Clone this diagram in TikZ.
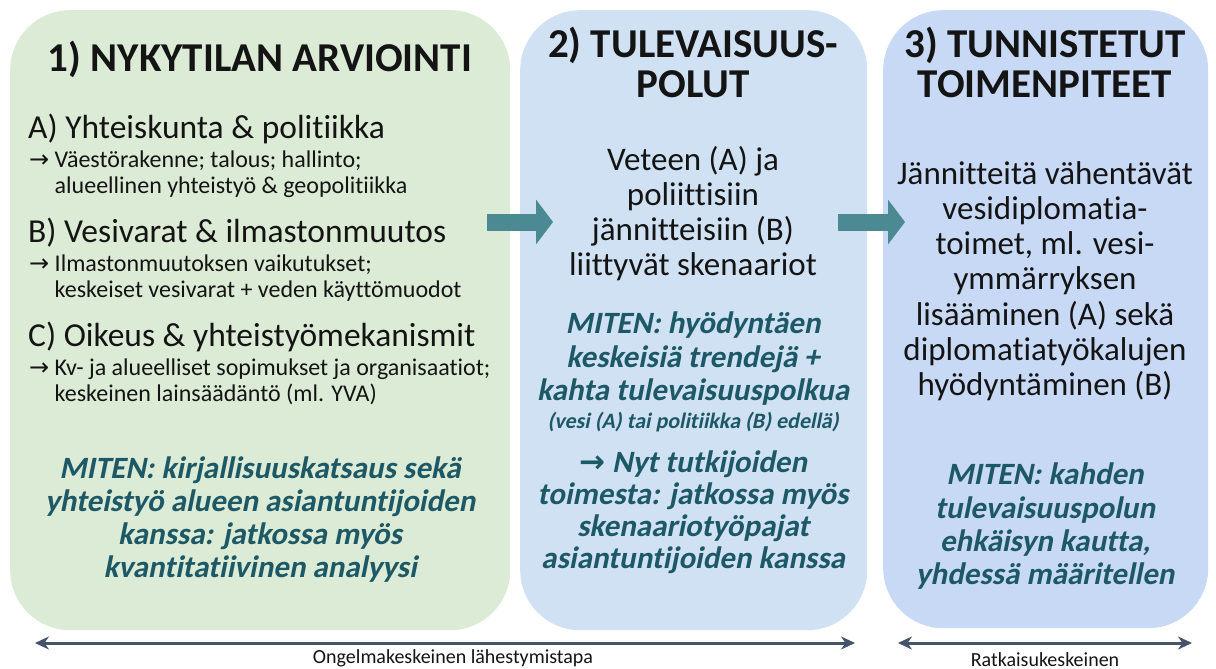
\documentclass[tikz,border=0pt]{standalone}
\usepackage{fontspec}
\setmainfont{Carlito}[Ligatures={NoCommon,NoContextual,NoRequired}, Contextuals=NoAlternate, BoldFont={Carlito Bold}, BoldItalicFont={Carlito Bold}, BoldItalicFeatures={FakeSlant=0.2}]
\newfontfamily\symf{DejaVu Sans}
\usetikzlibrary{arrows.meta}
\definecolor{pgreen}{HTML}{DCEBD5}
\definecolor{pblue}{HTML}{CFE1F3}
\definecolor{pblue2}{HTML}{C8D9F5}
\definecolor{teal1}{HTML}{4B8A93}
\definecolor{miten}{HTML}{1D5866}
\definecolor{axis}{HTML}{44546A}
\definecolor{ink}{HTML}{141414}
\newcommand{\ra}{{\symf\char"2192}}
\tikzset{
  panel/.style={draw=none, rounded corners=60pt, anchor=north west, inner sep=0pt},
  ttl/.style={font=\fontsize{41}{41}\selectfont\bfseries, text=ink, inner sep=0pt, anchor=base},
  hdr/.style={font=\fontsize{33.5}{33.5}\selectfont, text=ink, inner sep=0pt, anchor=base west},
  sub/.style={font=\fontsize{24}{24}\selectfont, text=ink, inner sep=0pt, anchor=base west},
  body/.style={font=\fontsize{33}{33}\selectfont, text=ink, inner sep=0pt, anchor=base},
  how/.style={font=\fontsize{31}{31}\selectfont\bfseries\itshape, text=miten, inner sep=0pt, anchor=base},
  howsmall/.style={font=\fontsize{22}{22}\selectfont\bfseries\itshape, text=miten, inner sep=0pt, anchor=base},
  bigarrow/.style={draw=teal1, line width=17pt, -{Triangle[length=17pt,width=44pt]}},
  axisarrow/.style={draw=axis, line width=3pt, {Stealth[length=14pt,width=13pt]}-{Stealth[length=14pt,width=13pt]}},
  lbl/.style={font=\fontsize{20}{20}\selectfont, text=ink, inner sep=0pt, anchor=base}
}
\begin{document}
\begin{tikzpicture}[x=1pt,y=-1pt]
\useasboundingbox (0,0) rectangle (1216,669);
\fill[white] (0,0) rectangle (1216,669);

% panels
\node[panel, fill=pgreen, minimum width=500pt, minimum height=620pt] (p1) at (10,10) {};
\node[panel, fill=pblue, minimum width=347pt, minimum height=620pt] (p2) at (520,10) {};
\node[panel, fill=pblue2, minimum width=325pt, minimum height=618pt] (p3) at (883,10) {};

% panel 1
\node[ttl] (t1) at (260,72) {1) NYKYTILAN ARVIOINTI};
\node[hdr] (a1) at (28,138) {A) Yhteiskunta \& politiikka};
\node[sub] (a2) at (29,167) {\ra\ Väestörakenne; talous; hallinto;};
\node[sub] (a3) at (29,193) {\phantom{\ra\ }alueellinen yhteistyö \& geopolitiikka};
\node[hdr] (b1) at (28,242) {B) Vesivarat \& ilmastonmuutos};
\node[sub] (b2) at (29,271) {\ra\ Ilmastonmuutoksen vaikutukset;};
\node[sub] (b3) at (29,297) {\phantom{\ra\ }keskeiset vesivarat + veden käyttömuodot};
\node[hdr] (c1) at (28,346) {C) Oikeus \& yhteistyömekanismit};
\node[sub] (c2) at (29,375) {\ra\ Kv- ja alueelliset sopimukset ja organisaatiot;};
\node[sub] (c3) at (29,401) {\phantom{\ra\ }keskeinen lainsäädäntö (ml. YVA)};
\node[how] (m11) at (260,478) {MITEN: kirjallisuuskatsaus sekä};
\node[how] (m12) at (260,511) {yhteistyö alueen asiantuntijoiden};
\node[how] (m13) at (260,544) {kanssa: jatkossa myös};
\node[how] (m14) at (260,577) {kvantitatiivinen analyysi};

% panel 2
\node[ttl] (t21) at (693,58) {2) TULEVAISUUS-};
\node[ttl] (t22) at (693,97) {POLUT};
\node[body] (v1) at (693,170) {Veteen (A) ja};
\node[body] (v2) at (693,205) {poliittisiin};
\node[body] (v3) at (693,240) {jännitteisiin (B)};
\node[body] (v4) at (693,275) {liittyvät skenaariot};
\node[how] (m21) at (693,333) {MITEN: hyödyntäen};
\node[how] (m22) at (693,367) {keskeisiä trendejä +};
\node[how] (m23) at (693,400) {kahta tulevaisuuspolkua};
\node[howsmall] (m24) at (693,428) {(vesi (A) tai politiikka (B) edellä)};
\node[how] (m25) at (693,472) {\ra\ Nyt tutkijoiden};
\node[how] (m26) at (693,504) {toimesta: jatkossa myös};
\node[how] (m27) at (693,536) {skenaariotyöpajat};
\node[how] (m28) at (693,568) {asiantuntijoiden kanssa};

% panel 3
\node[ttl] (t31) at (1045,58) {3) TUNNISTETUT};
\node[ttl] (t32) at (1045,97) {TOIMENPITEET};
\node[body] (w1) at (1045,184) {Jännitteitä vähentävät};
\node[body] (w2) at (1045,219) {vesidiplomatia-};
\node[body] (w3) at (1045,254) {toimet, ml. vesi-};
\node[body] (w4) at (1045,289) {ymmärryksen};
\node[body] (w5) at (1045,325) {lisääminen (A) sekä};
\node[body] (w6) at (1045,360) {diplomatiatyökalujen};
\node[body] (w7) at (1045,395) {hyödyntäminen (B)};
\node[how] (m31) at (1045,484) {MITEN: kahden};
\node[how] (m32) at (1045,518) {tulevaisuuspolun};
\node[how] (m33) at (1045,551) {ehkäisyn kautta,};
\node[how] (m34) at (1045,584) {yhdessä määritellen};

% connectors between panels
\coordinate (ar1s) at (487,222);
\coordinate (ar1e) at (553,222);
\coordinate (ar2s) at (838,222);
\coordinate (ar2e) at (905,222);
\draw[bigarrow] (ar1s) -- (ar1e);
\draw[bigarrow] (ar2s) -- (ar2e);

% bottom axes
\coordinate (x1l) at (35,643);
\coordinate (x1r) at (855,643);
\coordinate (x2l) at (898,643);
\coordinate (x2r) at (1192,643);
\draw[axisarrow] (x1l) -- (x1r);
\draw[axisarrow] (x2l) -- (x2r);
\node[lbl] (lb1) at (453,663) {Ongelmakeskeinen lähestymistapa};
\node[lbl] (lb2) at (1045,666) {Ratkaisukeskeinen};
\end{tikzpicture}
\end{document}
